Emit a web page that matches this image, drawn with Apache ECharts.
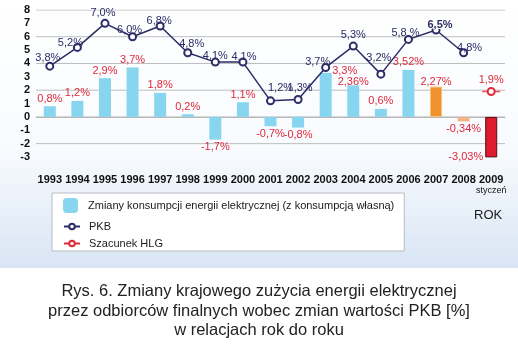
<!DOCTYPE html>
<html><head><meta charset="utf-8">
<script src="https://cdn.jsdelivr.net/npm/echarts@6/dist/echarts.min.js"></script>
<style>html,body{margin:0;padding:0;background:#fff}#c{width:518px;height:356px}</style>
</head><body><div id="c"></div>
<script>
const years = ['1993','1994','1995','1996','1997','1998','1999','2000','2001','2002','2003','2004','2005','2006','2007','2008','2009'];
const consumption = [0.8,1.2,2.9,3.7,1.8,0.2,-1.7,1.1,-0.7,-0.8,3.3,2.36,0.6,3.52,2.27,-0.34,-3.03];
const consumptionLabels = ['0,8%','1,2%','2,9%','3,7%','1,8%','0,2%','-1,7%','1,1%','-0,7%','-0,8%','3,3%','2,36%','0,6%','3,52%','2,27%','-0,34%','-3,03%'];
const pkb = [3.8,5.2,7.0,6.0,6.8,4.8,4.1,4.1,1.2,1.3,3.7,5.3,3.2,5.8,6.5,4.8,null];
const pkbLabels = ['3,8%','5,2%','7,0%','6,0%','6,8%','4,8%','4,1%','4,1%','1,2%','1,3%','3,7%','5,3%','3,2%','5,8 %','6,5%','4,8%',''];
const hlg = [null,null,null,null,null,null,null,null,null,null,null,null,null,null,null,null,1.9];
const hlgLabels = ['','','','','','','','','','','','','','','','','1,9%'];
const seriesNames = ['Zmiany konsumpcji energii elektrycznej (z konsumpcją własną)','PKB','Szacunek HLG'];
const gridValues = [-2,0,2,4,6,8];
const yMin = -3, yMax = 8;

// styling (not data)
const FONT = 'Liberation Sans, Arial, sans-serif';
const GRID_COLOR = '#bdbdbd';
const barColors = {'2007':'#f1922f','2008':'#f2b386','2009':'#dd1a2e'};
const pkbOffsets = [[-2,4],[-7,8],[-2,2],[-3,5],[-1,7],[4,3],[0,6],[1,7],[10,-1],[2,0],[-8,7],[0,1],[-2,-4],[-3,6],[4,7],[6,7],[0,0]];
const barLabelOffsets = {'2003':[19,6],'2004':[0,4],'2007':[0,3]};

const barData = consumption.map((v,i)=>{
  const y = years[i];
  const item = {value:v, label:{formatter:consumptionLabels[i], position: v>=0?'top':'bottom'}};
  if (barColors[y]) item.itemStyle = {color:barColors[y]};
  if (y==='2009') { item.itemStyle.borderColor='#5a0c14'; item.itemStyle.borderWidth=1; item.label.position='left'; item.label.offset=[0,20]; }
  if (y==='2007') { item.itemStyle.borderColor='#f8c27a'; item.itemStyle.borderWidth=1; }
  if (barLabelOffsets[y]) item.label.offset = barLabelOffsets[y];
  return item;
});
const pkbData = pkb.map((v,i)=>{
  const item = {value:v, label:{formatter:pkbLabels[i], offset:pkbOffsets[i]}};
  if (years[i]==='2007') item.label = Object.assign(item.label,{fontWeight:'bold',textBorderColor:'#fff',textBorderWidth:2});
  return item;
});
const hlgData = hlg.map((v,i)=>({value:v, label:{formatter:hlgLabels[i]}}));

// horizontal gridlines as plain line series on a hidden 0..1 x axis
const gridSeries = gridValues.map(v=>({
  name:'grid '+v, type:'line', xAxisIndex:1, yAxisIndex:0, silent:true, z:1,
  symbol:'none', animation:false, tooltip:{show:false},
  lineStyle:{color:GRID_COLOR, width:1}, emphasis:{disabled:true},
  data:[[0,v],[1,v]]
}));

const chart = echarts.init(document.getElementById('c'), null, {renderer:'canvas'});
chart.setOption({
  animation:false,
  textStyle:{fontFamily:FONT},
  backgroundColor:new echarts.graphic.LinearGradient(0,0,0,1,[
    {offset:0,color:'#ffffff'},{offset:0.42,color:'#f8fbfe'},{offset:0.752,color:'#d9e5f4'},
    {offset:0.753,color:'#ffffff'},{offset:1,color:'#ffffff'}]),
  graphic:{elements:[
    {type:'text', left:474, top:209, style:{text:'ROK', font:'13px '+FONT, fill:'#1a1a1a'}},
    {type:'text', left:'center', top:282, style:{text:'Rys. 6. Zmiany krajowego zużycia energii elektrycznej\nprzez odbiorców finalnych wobec zmian wartości PKB [%]\nw relacjach rok do roku', font:'16.5px '+FONT, fill:'#222', textAlign:'center', lineHeight:19.5}}
  ]},
  grid:{left:36, right:13, top:10, bottom:199, containLabel:false},
  legend:[
    {
      orient:'vertical', left:52, top:193, padding:[5,10,38,11], itemGap:5,
      itemWidth:15, itemHeight:15, z:4,
      backgroundColor:'#ffffff', borderColor:'#b8bcc4', borderWidth:1,
      textStyle:{fontSize:11, color:'#1a1a1a', fontFamily:FONT, padding:[0,0,0,5]},
      data:[seriesNames[0]]
    },
    {
      orient:'vertical', left:63, top:221, padding:0, itemGap:6,
      itemWidth:16, itemHeight:7, z:6,
      textStyle:{fontSize:11, color:'#1a1a1a', fontFamily:FONT, padding:[0,0,0,4]},
      data:[seriesNames[1], seriesNames[2]]
    }
  ],
  xAxis:[
    {
      type:'category', data:years,
      axisLine:{show:true, onZero:true, lineStyle:{color:'#b4b4b4', width:1}},
      axisTick:{show:false},
      axisLabel:{
        interval:0, margin:17, color:'#111', fontWeight:'bold', fontSize:11, fontFamily:'Liberation Sans Narrow, Arial Narrow, sans-serif',
        formatter:(v)=> v==='2009' ? v+'\n{s|styczeń}' : v,
        rich:{s:{fontSize:9, fontWeight:'normal', color:'#111', fontFamily:FONT, lineHeight:11}}
      }
    },
    {
      type:'value', min:0, max:1, show:false, position:'top',
      axisLine:{show:false}, axisTick:{show:false}, axisLabel:{show:false}, splitLine:{show:false}
    }
  ],
  yAxis:{
    type:'value', min:yMin, max:yMax, interval:1,
    axisLine:{show:false}, axisTick:{show:false},
    axisLabel:{margin:6, color:'#111', fontWeight:'bold', fontSize:11, fontFamily:FONT},
    splitLine:{show:false}
  },
  series:gridSeries.concat([
    {name:seriesNames[0], type:'bar', data:barData, barWidth:12, clip:false, z:2,
     itemStyle:{color:'#88d5ef'},
     label:{show:true, distance:2, color:'#e0283a', fontSize:11, fontFamily:FONT}},
    {name:seriesNames[1], type:'line', data:pkbData, symbol:'emptyCircle', symbolSize:7,
     itemStyle:{color:'#2c2c68', borderWidth:1.3}, lineStyle:{color:'#2c2c68', width:1.5},
     label:{show:true, position:'top', distance:2, color:'#2b2c66', fontSize:11, fontFamily:FONT}, z:4},
    {name:seriesNames[2], type:'line', data:hlgData, symbol:'emptyCircle', symbolSize:7,
     itemStyle:{color:'#e0283a', borderWidth:1.3}, lineStyle:{color:'#e0283a', width:1.5},
     label:{show:true, position:'top', distance:2, color:'#e0283a', fontSize:11, fontFamily:FONT}, z:5},
    {name:'hlg-dash', type:'scatter', data:hlg, symbol:'rect', symbolSize:[18,1.5],
     itemStyle:{color:'#e0283a'}, z:3, silent:true}
  ])
});
</script></body></html>
